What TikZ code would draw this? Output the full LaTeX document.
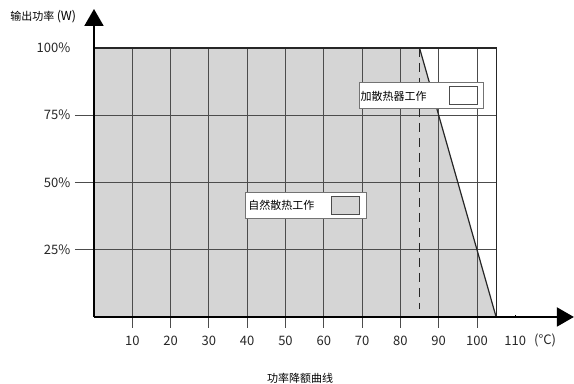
\documentclass[tikz,border=0pt]{standalone}
\usepackage{fontspec}
\setmainfont{Noto Sans CJK SC}
\usetikzlibrary{arrows.meta,positioning}

\tikzset{
  grid line/.style={black!70, line width=0.8pt},
  border line/.style={black!85, line width=1.2pt},
  axis line/.style={black, line width=2pt, -{Triangle[length=17pt,width=19pt]}},
  legend box/.style={draw=black!55, fill=white, line width=0.8pt,
    minimum height=26pt, align=left, font=\fontsize{11}{12}\selectfont},
  key box/.style={draw=black!70, line width=0.8pt, minimum width=28pt,
    minimum height=18pt, inner sep=0pt},
  tick label/.style={font=\fontsize{13}{14}\selectfont, text=black!85}
}

\begin{document}
\begin{tikzpicture}[x=3.83pt, y=2.69pt]
\useasboundingbox (-24.54,-24.91) rectangle (125.33,117.84);

% the working area under the curve
\fill[gray!33] (0,0) -- (0,100) -- (85,100) -- (105,0) -- cycle;

% vertical grid lines, running a little below the axis
\foreach \x in {10,20,...,100} {
\draw[grid line] (\x,-4) -- (\x,100);
% the temperature under each line
\node[tick label] (t\x) at (\x,-8.9) {\x};
}
\node[tick label] (t110) at (110,-8.9) {110};
\node[tick label] (unit) at (117.8,-8.9) {(°C)};

% horizontal grid lines and the ticks left of the axis
\foreach \y in {25,50,75} {
\draw[grid line] (-5,\y) -- (105,\y);
}
\foreach \y in {25,50,75,100}
\node[tick label, left=1pt] (p\y) at (-5,\y) {\y\%};

% the limit at 85 and the derating line
\draw[black!85, line width=1.2pt, dash pattern=on 9pt off 6pt] (85,100) -- (85,3);
\draw[border line] (85,100) -- (105,0);
\draw[border line] (0,100) -- (105,100) -- (105,0);

% the axes
\coordinate (O) at (0,0);
\coordinate (xend) at (125.3,0);
\coordinate (yend) at (0,114.5);
\draw[axis line] (O) -- (xend);
\draw[axis line] (O) -- (yend);
\draw[black, line width=1pt] (110,0) -- (110,0.8);

% the two legends
\node[legend box, text width=121pt, inner xsep=1.5pt] (heat) at (85.4,82.2) {加散热器工作};
\node[key box, fill=white, left=6pt of heat.east] (heatkey) {};
\node[legend box, text width=114pt, inner xsep=3.5pt] (free) at (55.2,41.5) {自然散热工作};
\node[key box, fill=gray!33, left=7pt of free.east] (freekey) {};

% the titles
\node[anchor=west, font=\fontsize{11}{12}\selectfont, inner sep=0pt] (ytitle) at (-21.9,111.5) {输出功率 {\fontsize{12.5}{13}\selectfont(W)}};
\node[font=\fontsize{11}{12}\selectfont] (caption) at (53.8,-22.7) {功率降额曲线};
\end{tikzpicture}
\end{document}
